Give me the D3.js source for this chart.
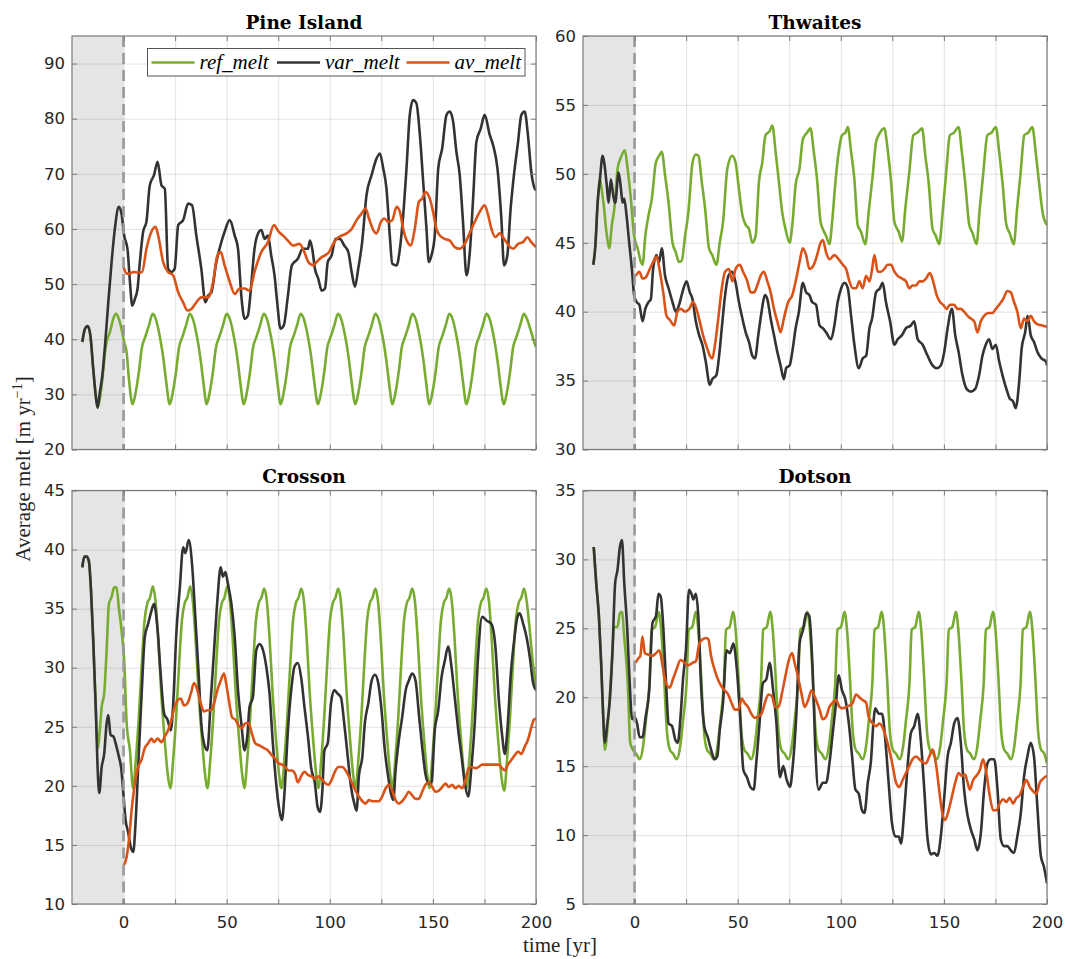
<!DOCTYPE html>
<html>
<head>
<meta charset="utf-8">
<script src="https://d3js.org/d3.v7.min.js"></script>
<style>
  body { margin: 0; background: #fff; }
</style>
</head>
<body>
<script>
// ---- data: [year, melt] pairs ----
var piRef = [[-20,39.5],[-18.7,41.9],[-17.4,42.4],[-16.1,40.7],[-14.7,34.6],[-13.5,29.8],[-12.6,27.6],[-11.4,29.4],[-10.2,33],[-9,37.6],[-8.2,39.5],[-6.6,41.3],[-5,43.7],[-3.7,44.6],[-2.3,43.7],[-1,41.9],[0.3,39.5],[1.5,37.6],[2.6,32.8],[4.4,28.2],
  [5.8,30.2],[7.4,34],[8.9,38.5],[10.6,40.5],[12.3,42.5],[14.1,44.6],[15.6,43.7],[17,41.6],[18.2,39.2],[19.4,36.2],[20.7,32.2],[22.4,28.2],
  [23.8,30.2],[25.4,34],[26.9,38.5],[28.6,40.5],[30.3,42.5],[32.1,44.6],[33.6,43.7],[35,41.6],[36.2,39.2],[37.4,36.2],[38.7,32.2],[40.3,28.2],
  [41.7,30.2],[43.3,34],[44.8,38.5],[46.5,40.5],[48.2,42.5],[50,44.6],[51.5,43.7],[52.9,41.6],[54.1,39.2],[55.3,36.2],[56.6,32.2],[58.3,28.2],
  [59.7,30.2],[61.3,34],[62.8,38.5],[64.5,40.5],[66.2,42.5],[68,44.6],[69.5,43.7],[70.9,41.6],[72.1,39.2],[73.3,36.2],[74.6,32.2],[76.2,28.2],
  [77.6,30.2],[79.2,34],[80.7,38.5],[82.4,40.5],[84.1,42.5],[85.9,44.6],[87.4,43.7],[88.8,41.6],[90,39.2],[91.2,36.2],[92.5,32.2],[94.3,28.2],
  [95.7,30.2],[97.3,34],[98.8,38.5],[100.5,40.5],[102.2,42.5],[104,44.6],[105.5,43.7],[106.9,41.6],[108.1,39.2],[109.3,36.2],[110.6,32.2],[112.4,28.2],
  [113.8,30.2],[115.4,34],[116.9,38.5],[118.6,40.5],[120.3,42.5],[122.1,44.6],[123.6,43.7],[125,41.6],[126.2,39.2],[127.4,36.2],[128.7,32.2],[130.4,28.2],
  [131.8,30.2],[133.4,34],[134.9,38.5],[136.6,40.5],[138.3,42.5],[140.1,44.6],[141.6,43.7],[143,41.6],[144.2,39.2],[145.4,36.2],[146.7,32.2],[148.3,28.2],
  [149.7,30.2],[151.3,34],[152.8,38.5],[154.5,40.5],[156.2,42.5],[158,44.6],[159.5,43.7],[160.9,41.6],[162.1,39.2],[163.3,36.2],[164.6,32.2],[166.3,28.2],
  [167.7,30.2],[169.3,34],[170.8,38.5],[172.5,40.5],[174.2,42.5],[176,44.6],[177.5,43.7],[178.9,41.6],[180.1,39.2],[181.3,36.2],[182.6,32.2],[184.4,28.2],
  [185.8,30.2],[187.4,34],[188.9,38.5],[190.6,40.5],[192.3,42.5],[194.1,44.6],[195.6,43.7],[197.2,41.9],[198.8,39.9],[200,38.6]];

var piVar = [[-20,39.5],[-18.7,41.9],[-17.4,42.4],[-16.1,40.7],[-14.7,34.6],[-13.5,29.8],[-12.6,27.6],[-11.5,30.4],[-10.3,33.4],[-9,38.8],[-7.4,46.7],[-5.8,54],[-4.2,60.1],[-2.3,64],[-1,62.8],[0.3,58.8],[1.9,56.4],[3.1,50.4],[4.2,46.1],[5.5,47.3],[6.8,49.2],[7.9,54],[9.5,59.5],[11.1,61.3],[12.7,67.9],[14.8,69.8],[16.5,72.2],[18.4,67.9],[20,67.3],[21.6,52.8],[23.2,52.2],[24.8,52.8],[26.5,60.7],[28.9,61.6],[31.3,64.6],[33.2,64.3],[35.3,58.8],[37.7,52.8],[39.7,46.7],[41,47.9],[42.6,48.5],[45,54],[47.4,57.6],[49,59.5],[51.5,61.6],[53.9,58.8],[55.5,56.4],[57.1,47.9],[58.7,43.7],[60.3,44.3],[61.6,48.5],[63.5,56.4],[64.8,58.8],[66.8,59.8],[68.4,58.2],[70,58.8],[71.6,55.2],[73.2,51.6],[74.5,46.7],[76.1,41.9],[77.7,42.5],[79.7,47.9],[81.6,53.4],[84.5,54.6],[86.9,56.4],[89.4,56.4],[90.4,57.9],[91.5,56.4],[92.8,52.8],[94.4,51],[96.1,48.8],[97.7,49.2],[99,54],[100.9,55.2],[102.8,58.2],[104.9,58.2],[107,57],[109,55.8],[110.6,52.2],[112.2,49.5],[113.8,52.8],[115.7,57.6],[117.8,66.1],[120.3,69.8],[122.7,72.8],[124.3,73.7],[125.9,71],[127.5,67.3],[129.1,58.8],[130.3,53.7],[132.4,53.4],[134,56.4],[135.6,62.5],[137.2,71],[138.8,80.7],[140.4,83.4],[142,82.8],[143.7,77],[145.3,68.5],[146.9,60],[148,54],[149.3,55.2],[150.9,58.8],[152.6,71],[154.5,74.6],[156.6,80.7],[158.2,81.3],[159.8,79.5],[161.4,74],[163,69.8],[164.6,61.3],[166.3,51.6],[167.9,55.8],[169.5,65.5],[171.1,75.8],[173.2,78.2],[175.1,80.7],[177.6,77],[179.2,75.2],[181.3,71],[183.2,61.9],[184.5,53.4],[186.1,55.2],[187.7,63.7],[189.3,69.8],[191.3,75.8],[192.9,80.7],[194.5,81.3],[196.1,77],[197.7,70.4],[199.4,67.3],[200,67]];

var piAv = [[0,53.1],[1.5,51.9],[3.1,51.9],[4.7,52.2],[7.1,52.1],[9,52.2],[11.1,56.4],[13.5,59.5],[15.5,60.4],[16.8,58.8],[19.2,54],[21.6,52.2],[24,51.6],[26.5,48.5],[28.9,46.7],[31,45.2],[32.9,45.5],[35.3,46.7],[37.7,47.6],[41,47.6],[43.4,50.4],[45.5,55.2],[47.1,55.8],[49,53.4],[51.5,50.4],[53.9,48.2],[56.3,49.2],[58.7,49.2],[61.1,48.8],[63.5,52.2],[66.8,55.8],[70,57.6],[72.9,60.7],[75.2,59.5],[77.3,58.8],[79.7,57.9],[82.1,57],[85.3,57.3],[87.7,55.8],[89.6,54],[92,53.4],[93.6,54],[96.1,54.9],[97.7,55.2],[99.6,55.8],[101.2,57],[103.3,58.2],[105.7,58.8],[108.2,59.2],[110.6,60],[113,61.6],[115.4,62.8],[117.4,63.7],[119,61.9],[121.1,59.8],[122.7,59.2],[124.8,61.3],[126.4,61.9],[128.3,61.3],[130.3,61.6],[132.4,64],[134,63.1],[135.6,60],[137.7,57.6],[139.3,57],[141.2,60],[143.2,64.9],[144.8,65.5],[146.4,66.7],[148.5,65.5],[150.1,63.1],[151.7,60],[153.4,58.8],[155.7,58.2],[158.2,57.9],[160.6,56.7],[163,56.4],[165.4,57.3],[167.8,59.2],[170.3,61.3],[172.7,63.1],[175.1,64.3],[176.8,62.5],[178.4,60],[180.3,58.5],[182.4,59.2],[184.5,58.2],[186.8,57],[188.9,56.4],[191.3,57.3],[193.7,57.6],[195.8,58.5],[197.7,57.6],[200,56.7]];

var thRef = [[-20,43.4],[-19,44.8],[-17.9,47.9],[-16.8,49.6],[-16.3,49.2],[-15,47.8],[-13.5,45.6],[-12.3,44.6],[-11,46.3],[-9.8,47.5],[-8.2,50.4],[-6.6,51.2],[-4.7,51.7],[-3.4,50.4],[-1.8,48.2],[-0.2,45.5],[1.5,44.6],[3.1,43.6],[3.9,43.4],[5.2,45.5],[6.8,47],[8.4,48.2],[10.3,50.8],[11.9,51.3],[13.2,51.6],[14.8,49.9],[16.5,47.9],[18.4,45],[20,44.3],[21.6,43.6],[22.9,43.7],[24.5,45.5],[26.1,47.2],[28.1,50.8],[29.7,51.4],[31,51.3],[32.6,49.4],[34.2,47.5],[36.1,44.6],[37.7,44.1],[39.7,43.4],[41.3,45],[42.9,46.5],[45,50.4],[47.4,51.3],[49,50.8],[50.6,48.9],[52.3,47],[53.9,46.3],[55.5,46],[57.1,45],[58.7,45.5],[60.3,49.4],[61.9,50.8],[63.5,52.8],[65.5,53.1],[66.8,53.5],[68.4,51.6],[70,49.4],[71.6,47.2],[73.2,46],[75.2,45],[76.5,46.3],[78.1,49.2],[80,50.4],[81.6,52.5],[83.7,53],[85.3,53.3],[86.9,51.6],[88.5,49.6],[90.2,46.5],[91.3,46],[92.9,45.5],[94.5,44.9],[95.8,46.5],[97.4,49.4],[99,51.6],[100.6,52.8],[102.3,53],[103.4,53.4],[105,51.6],[106.6,49.6],[108.2,46.3],[109.8,45.8],[111.9,44.9],[113.5,47.2],[115.5,49.9],[117.1,52.3],[118.7,52.9],[121.1,53.3],[122.7,51.8],[124.4,49.4],[126,46.5],[128.1,45.8],[129.7,45.1],[131.3,47.5],[133.2,50.1],[135.2,52.8],[137.3,53],[139.4,53.3],[141,51.3],[142.6,49.4],[144.5,46],[146.1,45.5],[147.7,44.9],[149.4,47.2],[151,49.9],[152.9,52.8],[155,53],[157.1,53.4],[158.7,51.6],[160.3,49.4],[162.3,46.3],[163.9,45.7],[165.8,44.9],[167.4,47.5],[169,49.9],[171.1,52.8],[173.2,53],[175.2,53.4],[176.8,51.6],[178.4,49.4],[180.3,46.3],[181.9,45.7],[183.9,44.9],[185.5,47.5],[187.1,49.9],[189,52.8],[191,53],[192.9,53.4],[194.5,51.6],[196.1,49.4],[198.1,47],[200,46.3]];

var thVar = [[-20,43.4],[-19,44.8],[-17.9,47.9],[-16.8,49.6],[-15.5,51.3],[-14.7,50.8],[-13.5,49.2],[-12.6,47.9],[-11.5,49.6],[-10.3,48.4],[-9.4,47.9],[-7.7,50.1],[-6.6,48.9],[-5.8,47.9],[-5,48.2],[-3.9,47],[-2.6,45],[-1.3,43.1],[-0.2,41.2],[1,40.7],[2.3,40.5],[3.9,39.3],[5.2,40.2],[6.8,40.7],[7.9,40.9],[9,43.1],[10.6,44.1],[11.9,43.6],[13.2,44.6],[14.8,42.6],[16.5,41.7],[18.4,40.7],[20,40],[21.6,40.5],[23.2,41.4],[25.2,42.2],[26.8,41.4],[28.1,40.9],[29.7,39.3],[31.3,38.3],[32.9,37.6],[34.5,36.4],[36.5,34.7],[37.7,35.1],[39.7,35.4],[41,36.8],[42.3,38.8],[43.9,41.2],[45.5,42.6],[47.4,42.9],[49,42.1],[50.6,40.7],[52.3,39.5],[53.9,38.5],[55.5,37.8],[57.1,36.8],[58.4,36.6],[60,38.3],[61.6,40],[63.2,41.2],[64.4,40.9],[66,39.5],[67.6,38.3],[69.2,37.1],[70.8,36.1],[72.4,35.1],[73.5,35.9],[75.2,36.1],[76.5,37.1],[78.1,38.8],[79.7,40],[81.6,42.1],[83.2,41.4],[84.8,41.2],[86.1,40.7],[88,40.5],[89.7,39],[91.3,38.8],[92.9,38.5],[95.3,38],[96.9,39],[98.5,40.7],[100.2,41.7],[101.8,42.1],[103.4,41.7],[105,39.7],[106.6,37.6],[108.7,35.9],[110.6,36.6],[112.3,36.8],[113.9,38.8],[115.2,39.5],[117.1,41.4],[119,41.7],[120.3,42.1],[121.9,40.7],[123.9,39.3],[126,37.6],[127.6,38],[129.7,38.3],[131.6,38.8],[134,39],[135.6,39.3],[137.3,38],[139.7,37.6],[142.1,36.8],[144.5,36.1],[146.5,35.9],[148.5,36.1],[150.2,37.1],[151.8,38.8],[153.9,40.2],[155.5,38.3],[157.1,37.1],[159,35.4],[161,34.4],[163.1,34.2],[165.2,34.4],[167.1,35.4],[168.7,36.8],[170.3,37.6],[171.9,38],[173.5,37.3],[175.2,37.6],[176.8,36.4],[178.4,35.4],[180.3,34.4],[181.9,33.7],[183.5,33.5],[184.8,33],[186.5,34.9],[187.7,37.3],[189.4,38.5],[190.6,39.7],[192.1,38.3],[193.7,37.8],[195.3,37.1],[197.4,36.6],[199.4,36.4],[200,36.1]];

var thAv = [[0.6,42.6],[2.3,42.9],[3.9,42.4],[5.5,42.5],[7.4,43.1],[9,43.6],[10.6,44],[12.3,42.9],[13.9,41.4],[15.5,39.7],[17.1,39.4],[19.2,39],[20.8,40],[22.4,40.2],[24.5,40],[26.5,40.2],[28.4,40.7],[30,40.2],[31.6,39.3],[33.2,38.3],[35.3,37.3],[36.5,36.8],[37.7,36.6],[39,37.6],[40.6,39.5],[42.3,41.7],[43.9,42.9],[45.8,43.1],[47.4,42.2],[49,43.1],[51,43.4],[52.6,42.9],[54.7,42.2],[56.3,41.4],[57.9,41.4],[59.5,41.9],[61.1,42.6],[62.7,42.9],[64.4,42.2],[66,41.4],[67.6,40.2],[69.2,39.3],[70.8,38.5],[72.4,39.5],[74.5,40.7],[76.5,41.2],[78.4,42.4],[80,43.6],[81.6,44.6],[83.2,44.1],[84.8,43.1],[86.9,43.4],[88.5,44.1],[90.2,45],[91.3,45.2],[92.9,44.3],[94.5,43.8],[96.9,44.1],[99,43.8],[101,43.4],[102.6,43.1],[104.2,42.2],[105.8,41.7],[107.4,41.7],[109,42.2],[110.6,41.7],[112.3,42.6],[113.9,42.2],[115.2,43.1],[116.3,44.1],[117.9,42.9],[119.5,42.9],[121.1,43.1],[122.7,43.4],[124.4,43.4],[126,42.9],[127.6,42.6],[129.7,42.4],[131.6,42.2],[133.2,41.7],[134.8,41.9],[136.5,41.9],[138.1,42.2],[139.7,42.2],[141.3,42.4],[143.2,42.8],[144.8,42.2],[146.5,41.2],[148.1,40.7],[149.7,40.5],[151.3,40.2],[152.9,40.5],[155,40.5],[156.6,40.2],[158.2,40.2],[159.8,40],[161.5,39.7],[163.1,39.5],[164.7,39.3],[166.3,38.5],[167.9,39.3],[169.5,39.7],[171.6,39.9],[173.5,39.9],[175.2,40.2],[176.8,40.5],[178.7,40.9],[180.8,41.5],[182.4,41.4],[184,40.7],[185.6,40],[187.3,38.8],[188.9,39.5],[190.5,39.3],[192.1,39.7],[193.7,39.3],[195.3,39.1],[197.7,39],[200,38.9]];

var crRef = [[-20,38.5],[-19,39.4],[-17.9,39.4],[-16.8,39],[-15.8,36.6],[-14.7,32.3],[-13.5,26.7],[-12.4,23.2],[-11.6,24.5],[-10.6,26.7],[-9.4,27.8],[-8.2,31.5],[-7.1,35.4],[-5.8,36],[-4.5,36.8],[-3.4,36.8],[-2.3,35.1],[-1,33.2],[0.3,30.6],[1.5,25.3],[3.1,23],[4.6,19.8],
  [6,22.3],[7.4,25.8],[8.9,30.5],[10.2,34],[11.6,35.5],[12.8,35.9],[14.2,36.9],[15.5,35.6],[16.8,32.5],[18.3,27.8],[19.9,24],[21.4,21],[22.7,19.8],
  [24.1,22.3],[25.5,25.8],[27,30.5],[28.3,34],[29.7,35.5],[30.9,35.9],[32.3,36.9],[33.6,35.6],[34.9,32.5],[36.4,27.8],[38,24],[39.5,21],[40.7,19.8],
  [42.1,22.3],[43.5,25.8],[45,30.5],[46.3,34],[47.7,35.5],[48.9,35.9],[50.3,36.9],[51.6,35.6],[52.9,32.5],[54.4,27.8],[56,24],[57.5,21],[58.6,19.8],
  [60,22.3],[61.4,25.8],[62.9,30.5],[64.2,34],[65.6,35.5],[66.8,35.9],[68.2,36.7],[69.5,35.6],[70.8,32.5],[72.3,27.8],[73.9,24],[75.4,21],[76.6,19.8],
  [78,22.3],[79.4,25.8],[80.9,30.5],[82.2,34],[83.6,35.5],[84.8,35.9],[86.2,36.7],[87.5,35.6],[88.8,32.5],[90.3,27.8],[91.9,24],[93.4,21],[94.5,19.8],
  [95.9,22.3],[97.3,25.8],[98.8,30.5],[100.1,34],[101.5,35.5],[102.7,35.9],[104.1,36.7],[105.4,35.6],[106.7,32.5],[108.2,27.8],[109.8,24],[111.3,21],[112.5,19.8],
  [113.9,22.3],[115.3,25.8],[116.8,30.5],[118.1,34],[119.5,35.5],[120.7,35.9],[122.1,36.7],[123.4,35.6],[124.7,32.5],[126.2,27.8],[127.8,24],[129.3,21],[130.4,19.8],
  [131.8,22.3],[133.2,25.8],[134.7,30.5],[136,34],[137.4,35.5],[138.6,35.9],[140,36.7],[141.3,35.6],[142.6,32.5],[144.1,27.8],[145.7,24],[147.2,21],[148.3,19.8],
  [149.7,22.3],[151.1,25.8],[152.6,30.5],[153.9,34],[155.3,35.5],[156.5,35.9],[157.9,36.7],[159.2,35.6],[160.5,32.5],[162,27.8],[163.6,24],[165.1,21],[166.3,19.8],
  [167.7,22.3],[169.1,25.8],[170.6,30.5],[171.9,34],[173.3,35.5],[174.5,35.9],[175.9,36.7],[177.2,35.6],[178.5,32.5],[180,27.8],[181.6,24],[183.1,21],[184.6,19.6],
  [186,22.3],[187.4,25.8],[188.9,30.5],[190.2,34],[191.6,35.5],[192.8,35.9],[194.2,36.7],[195.5,35.6],[196.8,33.5],[198.4,30.5],[200,28.4]];

var crVar = [[-20,38.5],[-19,39.4],[-17.9,39.4],[-16.8,39],[-15.8,36.6],[-14.7,32.3],[-13.5,26.7],[-12.6,21.6],[-11.8,19.4],[-10.6,21.6],[-9.4,22.7],[-8.2,25.3],[-7.4,26],[-6.3,24.3],[-5,24.2],[-3.4,23.3],[-2.3,22.5],[-1,21.3],[-0.2,19.6],[1,17.1],[2.3,16],[3.5,14.8],[4.7,14.4],[5.8,16.8],[7.1,21.6],[8.7,27.5],[10.3,32.6],[11.9,33.7],[13.2,34.6],[14.8,35.4],[16.5,33.2],[18.1,29.2],[19.7,26.1],[21.3,25.6],[22.9,24.7],[24,26.7],[25.6,32.9],[27.3,36.8],[28.9,40.2],[30,39.7],[31.6,40.8],[33.2,38.8],[34.8,34.3],[36.5,29.2],[37.7,25.3],[39,23.6],[40.6,23],[42.3,27.3],[43.9,31.5],[45.5,35.7],[47.1,38.5],[48.2,37.7],[49.4,38.1],[50.6,37.1],[52.3,35.4],[53.9,32.6],[55.5,28.1],[57.1,25.3],[58.7,23],[60,24.2],[61.1,26.7],[62.7,27.5],[64.4,31.5],[66,32],[67.6,31.5],[69.2,30.1],[70.8,27.8],[72.4,23.6],[74,20.2],[75.6,17.9],[76.8,17.1],[78.1,19.6],[79.7,24.7],[81.3,28.1],[82.9,30.1],[84.5,30.4],[86.1,29.2],[87.7,26.7],[89.4,24.2],[91,21.5],[92.8,20.2],[94.1,18.2],[95.3,17.8],[96.4,19.6],[97.4,23],[99,23.6],[100.6,27],[102.2,28.1],[103.8,27.8],[105.4,27.5],[107,25.3],[108.7,22.5],[110.3,19.9],[111.9,18.5],[113,17.9],[114.1,20.8],[115.8,22.5],[117,25.3],[118.7,27],[120.3,28.9],[121.9,29.4],[123.5,28.7],[125.1,26.4],[126.7,23],[128.3,20.8],[129.6,19.4],[130.8,18.8],[131.9,21.3],[133.5,23.9],[135.1,25.8],[136.8,28.1],[138.3,28.9],[140,29.5],[141.6,28.9],[143.2,26.1],[144.8,23.3],[146.4,21],[148,20.2],[149.3,20.2],[150.9,24.7],[152.6,26.4],[154.2,29.2],[155.8,30.6],[157.4,31.8],[159,30.1],[160.6,27.5],[162.3,24.7],[163.9,22.5],[165.5,20.2],[167.1,19.1],[168.7,21.6],[170.3,25.3],[171.9,30.9],[173.9,34.3],[176,34],[178.4,33.7],[180.3,31.8],[181.9,27.5],[183.5,24.4],[184.9,22.7],[186.1,24.7],[187.8,29.5],[189.4,32.3],[191,34.3],[192.1,34.6],[193.8,33.7],[195.4,32.6],[197,30.9],[198.6,28.7],[200,28.1]];

var crAv = [[0.3,13.3],[1.5,14],[2.6,15.4],[3.9,17.9],[5.5,20.2],[7.1,21.6],[8.7,22.2],[10.3,23.2],[11.9,23.6],[13.5,24],[14.8,23.7],[16.5,24],[18.4,23.7],[20,24.2],[21.6,24.7],[23.2,25.6],[24.8,26.7],[26.5,27.3],[27.7,27.4],[29.4,26.8],[31,27],[32.6,27.8],[34.2,28.7],[35.8,28.1],[37.4,27],[39,26.3],[40.6,26.4],[42.3,26.4],[43.9,27],[45.5,28.1],[47.1,28.9],[48.7,29.5],[50,28.4],[51.3,27],[52.6,25.8],[54.2,25.6],[55.8,25.1],[57.4,24.9],[59,25.3],[60.6,25.3],[62.3,24.4],[63.9,23.6],[66,23.4],[68.1,23.2],[70,23],[71.9,22.6],[73.5,22.3],[75.2,21.9],[76.8,21.8],[78.4,21.6],[80,21.3],[81.6,21.3],[83.2,21],[84.5,20.3],[86.1,20.8],[87.7,21.2],[89.6,20.9],[91.2,20.8],[92.8,20.6],[94.4,20.8],[96.4,20.5],[98,20.2],[99.3,20.1],[100.9,20.5],[102.5,21.2],[104.1,21.6],[106.1,21.6],[107.7,21.3],[109.3,20.8],[110.9,20.2],[112.5,19.6],[114.1,19.1],[115.8,18.7],[117.4,18.5],[119,18.8],[120.6,18.7],[122.2,18.7],[123.8,18.7],[125.4,19.1],[127.1,19.8],[128.7,20.1],[130.3,19.6],[131.9,18.8],[133.5,18.5],[135.1,18.7],[136.8,19.1],[138.3,19.5],[140,19.2],[141.6,18.9],[143.2,18.9],[144.8,19.5],[146.4,20.1],[148,20.3],[149.7,19.9],[151.2,19.5],[152.9,19.6],[154.5,19.9],[156.1,20.2],[157.7,19.9],[159.3,20.1],[160.9,19.8],[162.6,20],[164.2,19.8],[165.8,20.5],[167.4,21.5],[169,21.6],[170.6,21.5],[172.2,21.6],[173.9,21.8],[175.5,21.8],[177.1,21.8],[178.7,21.8],[180.3,21.8],[181.9,21.8],[183.5,21.5],[184.9,21.3],[186.4,21.8],[188.1,22.2],[189.7,22.6],[191.3,22.9],[192.9,22.7],[194.5,23.3],[196.1,23.9],[197.8,25],[199,25.6],[200,25.7]];

var doRef = [[-19.8,30.9],[-18.6,28.3],[-17.3,25.9],[-16.2,22.5],[-15.2,18.6],[-14.4,16.2],[-12.7,18.6],[-11,22.5],[-9.9,25.1],[-8.3,25.1],[-7.1,26.1],[-6.1,26.2],[-5,24.4],[-3.3,21],[-2.1,16.7],[-0.8,16.2],[0.8,15.9],[2.5,15.5],
  [4,16.3],[5.5,18.3],[7.2,21],[8.3,24.9],[10,25.1],[11.7,26.2],[12.9,24.9],[14.3,21.5],[15.7,17.5],[17.1,16.2],[18.7,15.9],[20.5,15.5],
  [22,16.3],[23.5,18.3],[25.2,21],[26.3,24.9],[28,25.1],[29.7,26.2],[30.9,24.9],[32.3,21.5],[33.7,17.5],[35.1,16.2],[36.7,15.9],[38.6,15.5],
  [40.1,16.3],[41.6,18.3],[43.3,21],[44.4,24.9],[46.1,25.1],[47.8,26.2],[49,24.9],[50.4,21.5],[51.8,17.5],[53.2,16.2],[54.8,15.9],[56.6,15.5],
  [58.1,16.3],[59.6,18.3],[61.3,21],[62.4,24.9],[64.1,25.1],[65.8,26.2],[67,24.9],[68.4,21.5],[69.8,17.5],[71.2,16.2],[72.8,15.9],[74.6,15.5],
  [76.1,16.3],[77.6,18.3],[79.3,21],[80.4,24.9],[82.1,25.1],[83.8,26.2],[85,24.9],[86.4,21.5],[87.8,17.5],[89.2,16.2],[90.8,15.9],[92.6,15.5],
  [94.1,16.3],[95.6,18.3],[97.3,21],[98.4,24.9],[100.1,25.1],[101.8,26.2],[103,24.9],[104.4,21.5],[105.8,17.5],[107.2,16.2],[108.8,15.9],[110.6,15.5],
  [112.1,16.3],[113.6,18.3],[115.3,21],[116.4,24.9],[118.1,25.1],[119.8,26.2],[121,24.9],[122.4,21.5],[123.8,17.5],[125.2,16.2],[126.8,15.9],[128.6,15.5],
  [130.1,16.3],[131.6,18.3],[133.3,21],[134.4,24.9],[136.1,25.1],[137.8,26.2],[139,24.9],[140.4,21.5],[141.8,17.5],[143.2,16.2],[144.8,15.9],[146.6,15.5],
  [148.1,16.3],[149.6,18.3],[151.3,21],[152.4,24.9],[154.1,25.1],[155.8,26.2],[157,24.9],[158.4,21.5],[159.8,17.5],[161.2,16.2],[162.8,15.9],[164.6,15.5],
  [166.1,16.3],[167.6,18.3],[169.3,21],[170.4,24.9],[172.1,25.1],[173.8,26.2],[175,24.9],[176.4,21.5],[177.8,17.5],[179.2,16.2],[180.8,15.9],[182.5,15.5],
  [184,16.3],[185.5,18.3],[187.2,21],[188.3,24.9],[190,25.1],[191.7,26.2],[192.9,24.9],[194.3,21.5],[195.7,17.5],[197.1,16.2],[198.7,15.9],[200,15.2]];

var doVar = [[-19.8,30.9],[-18.6,28.3],[-17.3,25.9],[-16.2,22.5],[-15.2,18.6],[-14.4,16.7],[-13.2,18.1],[-12,19.8],[-10.7,23.4],[-9.4,28.3],[-8.3,29.2],[-7.1,30.9],[-6.1,31.4],[-5,28.3],[-3.6,25.1],[-2.5,21.5],[-1.2,18.4],[0,18.6],[1.2,18.1],[2.5,17.1],[3.8,17.1],[5.4,18.6],[7.1,20.5],[8.7,25.4],[10.4,25.9],[11.6,27.5],[12.7,27.3],[14,24.9],[15.3,21],[16.5,18.1],[18.2,17.9],[19.8,16.9],[21,16.7],[22.3,18.6],[23.6,21.5],[24.9,23.4],[26.4,27.8],[27.6,27.5],[28.5,27.1],[29.7,27.5],[30.9,25.9],[32.2,21],[33.8,17.9],[35.5,17.1],[37.1,16.2],[38.8,15.5],[40.1,15.7],[41.3,17.6],[42.9,19.6],[44.6,23.4],[46.2,23.2],[47.9,23.9],[49.5,22.2],[51.2,18.6],[52.8,14.7],[54.5,14.2],[56.1,13.5],[57.8,13.3],[58.9,15],[60.6,18.1],[62.2,21],[63.9,21.3],[65.5,22.5],[67.2,20.5],[68.8,18.1],[70.5,14.2],[72.1,15],[73.8,14],[75.4,13.5],[76.7,15],[78.4,18.6],[80,23.9],[81.7,24.9],[83.3,26.1],[84.7,25.9],[86.3,22.2],[87.6,16.5],[89.2,13.3],[91.3,13.8],[92.9,13.8],[94.5,15.2],[96.1,17.4],[97.7,19.6],[99,21.6],[100.6,20.5],[102.3,19.8],[103.9,18.1],[105.5,15.7],[107.1,13.3],[108.7,13],[110.3,11.8],[111.5,11.6],[113.1,13.8],[114.7,15.5],[115.8,18.1],[116.8,19.2],[118.4,18.8],[120,18.8],[121.6,16.9],[123.2,13.8],[124.8,10.9],[126.5,9.9],[128.1,9.9],[129.2,9.4],[130.8,11.8],[132.4,15],[134,17.4],[135.6,17.9],[137.3,18.8],[138.9,16.7],[140.5,13.3],[142.1,9.7],[143.7,8.6],[145.3,8.7],[146.9,8.5],[148.5,9.9],[150.2,12.8],[151.8,15.7],[153.4,16.7],[155,18.1],[156.6,18.5],[158.2,16.7],[159.8,13.3],[161.5,11.4],[163.1,10.4],[164.7,9.7],[166.3,8.9],[167.9,10.1],[169.5,13.3],[171.1,15.2],[172.7,15.5],[174.4,15.5],[176,13.3],[177.6,9.7],[179.2,9.2],[180.8,9.2],[182.4,8.9],[184,8.7],[185.6,9.9],[187.3,11.6],[188.9,14.3],[190.5,15.7],[192.1,16.7],[193.7,15.7],[195.3,12.1],[197,8.5],[198.5,7.7],[200,6.5]];

var doAv = [[0.5,22.5],[1.7,22.8],[2.8,23],[3.8,24.4],[5,23.2],[6.6,23.1],[8.7,23],[10.4,23.2],[12,23.4],[13.7,22.2],[15.3,21],[17,20.7],[18.6,21.3],[20.3,22],[22.3,22.7],[24.3,22.5],[25.9,22.3],[28.1,22.5],[29.7,22.6],[31.4,23.9],[33,24.2],[34.7,24.3],[35.8,24.2],[37.1,23],[38.8,22],[40.4,21.3],[42.1,20.8],[43.7,20.5],[45.4,20.2],[47,19.6],[48.7,19.1],[50.3,19.1],[52,19.9],[53.3,19.6],[55,19.3],[56.6,18.8],[58.3,18.5],[59.9,18.6],[61.6,18.8],[63.2,19.6],[64.9,20.2],[66.5,20.1],[68.2,19.3],[69.8,19.3],[71.5,20.3],[73.1,21.5],[74.8,22.7],[76.4,23.2],[77.6,22.5],[79.2,21.5],[80.9,20.3],[82.5,19.3],[84.2,19.8],[85.8,20.5],[87.5,20],[89.7,19.1],[91.3,18.4],[92.9,18.6],[94.5,19.3],[96.1,19.6],[97.7,19.8],[99.4,19.3],[101,19.2],[102.6,19.3],[104.2,19.4],[105.8,19.6],[107.4,20.2],[109,20],[110.6,19.8],[112.3,19.6],[113.5,18.6],[115.5,18.1],[117.1,17.9],[118.7,18.1],[120.3,17.8],[121.9,17.1],[123.5,16.2],[125.2,15],[126.8,13.8],[128.4,13.5],[130,14],[131.6,14.5],[133.2,15],[134.8,15.5],[136.5,15.7],[138.1,15.5],[139.7,15.3],[141.3,15.2],[142.9,15.7],[144.5,16.2],[146.1,15.2],[147.7,13.3],[149,11.8],[150.6,11.1],[152.3,11.8],[153.9,12.8],[155.5,13.8],[157.1,14.5],[158.7,14.3],[160.3,14.4],[161.5,13.8],[162.6,13.3],[164.2,14],[165.8,14.3],[167.4,14.7],[169,15.5],[170.6,14.5],[172.3,12.8],[173.9,11.8],[175.5,11.8],[177.1,12.3],[178.7,12.6],[180.3,12.4],[181.9,12.7],[183.5,12.3],[185.2,12.7],[186.8,12.9],[188.4,13.5],[190,14],[191.6,13.5],[193.2,13.2],[194.8,13],[196.5,13.8],[198.1,14.1],[200,14.3]];

// ---- axes / labels ----
var titles = ["Pine Island", "Thwaites", "Crosson", "Dotson"];
var xTicks = [0, 25, 50, 75, 100, 125, 150, 175, 200];
var xLabelTicks = [0, 50, 100, 150, 200];
var piYTicks = [20, 30, 40, 50, 60, 70, 80, 90];
var thYTicks = [30, 35, 40, 45, 50, 55, 60];
var crYTicks = [10, 15, 20, 25, 30, 35, 40, 45];
var doYTicks = [5, 10, 15, 20, 25, 30, 35];
var seriesNames = ["ref_melt", "var_melt", "av_melt"];
var colors = ["#77ac30", "#333333", "#d95319"];

var W = 1065, H = 959;
var pw = 464, ph = 413.5;

var panels = [
  {title: titles[0], series: [piRef, piVar, piAv], yDomain: [20, 95], yTicks: piYTicks, left: 72, top: 36, xLab: false},
  {title: titles[1], series: [thRef, thVar, thAv], yDomain: [30, 60], yTicks: thYTicks, left: 583, top: 36, xLab: false},
  {title: titles[2], series: [crRef, crVar, crAv], yDomain: [10, 45], yTicks: crYTicks, left: 72, top: 490.5, xLab: true},
  {title: titles[3], series: [doRef, doVar, doAv], yDomain: [5, 35], yTicks: doYTicks, left: 583, top: 490.5, xLab: true}
];

var svg = d3.select("body").append("svg")
    .attr("width", W)
    .attr("height", H)
    .style("background", "#fff");

var tickFont = "'DejaVu Sans', sans-serif";
var serif = "'Liberation Serif', 'Times New Roman', serif";

panels.forEach(function(p, i) {
    var x = d3.scaleLinear().domain([-25, 200]).range([0, pw]);
    var y = d3.scaleLinear().domain(p.yDomain).range([ph, 0]);

    var g = svg.append("g")
        .attr("transform", "translate(" + p.left + "," + p.top + ")");

    g.append("clipPath").attr("id", "clip" + i)
      .append("rect").attr("width", pw).attr("height", ph);

    // spin-up shading
    g.append("rect")
        .attr("x", x(-25)).attr("y", 0)
        .attr("width", x(0) - x(-25)).attr("height", ph)
        .attr("fill", "#e5e5e5");

    // grid
    g.append("g")
        .attr("transform", "translate(0," + ph + ")")
        .call(d3.axisBottom(x).tickValues(xTicks).tickSize(-ph).tickFormat(""))
        .call(s => s.select(".domain").remove())
        .call(s => s.selectAll("line").attr("stroke", "#262626").attr("stroke-opacity", 0.13));
    g.append("g")
        .call(d3.axisLeft(y).tickValues(p.yTicks).tickSize(-pw).tickFormat(""))
        .call(s => s.select(".domain").remove())
        .call(s => s.selectAll("line").attr("stroke", "#262626").attr("stroke-opacity", 0.13));

    // series
    var line = d3.line()
        .curve(d3.curveMonotoneX)
        .x(d => x(d[0]))
        .y(d => y(d[1]));

    p.series.forEach(function(s, k) {
        g.append("path")
            .datum(s)
            .attr("clip-path", "url(#clip" + i + ")")
            .attr("fill", "none")
            .attr("stroke", colors[k])
            .attr("stroke-width", 2.6)
            .attr("stroke-linejoin", "round")
            .attr("d", line);
    });

    // start of experiment
    g.append("line")
        .attr("x1", x(0)).attr("x2", x(0))
        .attr("y1", 0).attr("y2", ph)
        .attr("stroke", "#999")
        .attr("stroke-width", 2.6)
        .attr("stroke-dasharray", "11,6");

    // axes with inward ticks on all four sides
    var tickCol = "#7a7a7a";
    var bottom = g.append("g")
        .attr("transform", "translate(0," + ph + ")")
        .call(d3.axisBottom(x).tickValues(xTicks).tickSize(-5).tickSizeOuter(0).tickPadding(12)
            .tickFormat(d => (p.xLab && xLabelTicks.indexOf(d) >= 0) ? d : ""));
    var top = g.append("g")
        .call(d3.axisTop(x).tickValues(xTicks).tickSize(-5).tickSizeOuter(0).tickFormat(""));
    var left = g.append("g")
        .call(d3.axisLeft(y).tickValues(p.yTicks).tickSize(-5).tickSizeOuter(0).tickPadding(7));
    var right = g.append("g")
        .attr("transform", "translate(" + pw + ",0)")
        .call(d3.axisRight(y).tickValues(p.yTicks).tickSize(-5).tickSizeOuter(0).tickFormat(""));

    [bottom, top, left, right].forEach(function(a) {
        a.select(".domain").remove();
        a.selectAll("line").attr("stroke", tickCol);
        a.selectAll("text")
            .attr("font-family", tickFont)
            .attr("font-size", "16.5px")
            .attr("fill", "#262626");
    });

    // box
    g.append("rect")
        .attr("width", pw).attr("height", ph)
        .attr("fill", "none")
        .attr("stroke", tickCol)
        .attr("stroke-width", 1.2);

    // title
    g.append("text")
        .attr("x", pw / 2)
        .attr("y", -7.5)
        .attr("text-anchor", "middle")
        .attr("font-family", "'DejaVu Serif', serif")
        .attr("font-weight", "bold")
        .attr("font-size", "18.5px")
        .attr("fill", "#000")
        .text(p.title);
});

// legend (Pine Island panel)
var leg = svg.append("g");
leg.append("rect")
    .attr("x", 147.5).attr("y", 48.5)
    .attr("width", 377.5).attr("height", 27.5)
    .attr("fill", "#fff")
    .attr("stroke", "#555")
    .attr("stroke-width", 1);
var legX = [151.5, 277, 406.5];
seriesNames.forEach(function(n, k) {
    leg.append("line")
        .attr("x1", legX[k]).attr("x2", legX[k] + 43)
        .attr("y1", 62.5).attr("y2", 62.5)
        .attr("stroke", colors[k])
        .attr("stroke-width", 2.6);
    leg.append("text")
        .attr("x", legX[k] + 48)
        .attr("y", 69)
        .attr("font-family", serif)
        .attr("font-style", "italic")
        .attr("font-size", "21px")
        .attr("fill", "#000")
        .text(n);
});

// axis titles
var yl = svg.append("text")
    .attr("transform", "translate(30,469) rotate(-90)")
    .attr("text-anchor", "middle")
    .attr("font-family", serif)
    .attr("font-size", "21px")
    .attr("fill", "#262626");
yl.append("tspan").text("Average melt [m yr");
yl.append("tspan").attr("font-size", "14px").attr("dy", -8).text("\u22121");
yl.append("tspan").attr("dy", 8).text("]");

svg.append("text")
    .attr("x", 560)
    .attr("y", 952)
    .attr("text-anchor", "middle")
    .attr("font-family", serif)
    .attr("font-size", "21px")
    .attr("fill", "#262626")
    .text("time [yr]");
</script>
</body>
</html>
